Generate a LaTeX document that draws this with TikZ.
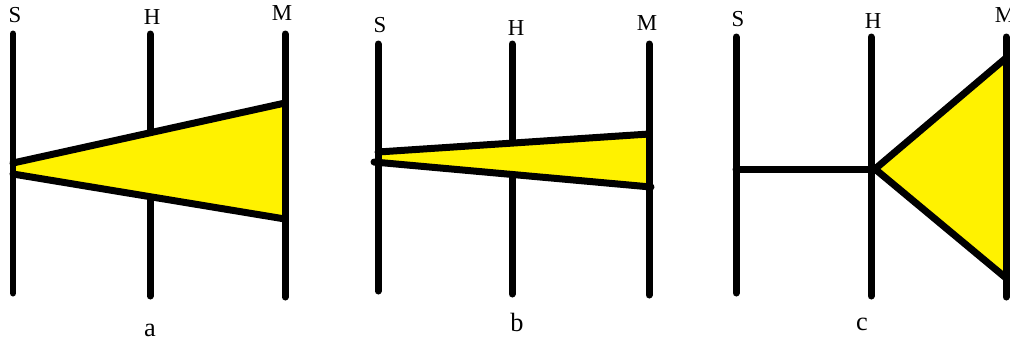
\documentclass[tikz,border=0pt]{standalone}
\usepackage{fontspec}
\setmainfont{Liberation Serif}

\begin{document}
\begin{tikzpicture}[
    x=0.02cm, y=-0.02cm,
    every node/.style={font=\fontsize{13}{15}\selectfont, inner sep=0pt},
    bar/.style={line width=0.14cm, line cap=round},
    edge/.style={line width=0.14cm, line cap=round, line join=round},
  ]
  \useasboundingbox (0,0) rectangle (1010,343);

  % panel a
  \node (aS) at (15,15)  {S};
  \node (aH) at (152,17) {H};
  \node (aM) at (282,13) {M};
  \node[font=\fontsize{15}{17}\selectfont] (acap) at (150,330) {a};

  \coordinate (aSt) at (13,34);
  \coordinate (aSb) at (13,293);
  \coordinate (aHt) at (150,34);
  \coordinate (aHb) at (150,296);
  \coordinate (aMt) at (285,34);
  \coordinate (aMb) at (285,297);
  \coordinate (aup1) at (13,163);
  \coordinate (aup2) at (285,103);
  \coordinate (alo1) at (13,174);
  \coordinate (alo2) at (285,219);

  \draw[bar] (aHt) -- (aHb);
  \fill[yellow] (aup1) -- (aup2) -- (alo2) -- (alo1) -- cycle;
  \draw[edge] (aup1) -- (aup2);
  \draw[edge] (alo1) -- (alo2);
  \draw[bar] (aSt) -- (aSb);
  \draw[bar] (aMt) -- (aMb);

  % panel b
  \node (bS) at (380,25) {S};
  \node (bH) at (516,28) {H};
  \node (bM) at (647,23) {M};
  \node[font=\fontsize{15}{17}\selectfont] (bcap) at (517,322) {b};

  \coordinate (bSt) at (378,44);
  \coordinate (bSb) at (378,291);
  \coordinate (bHt) at (512,44);
  \coordinate (bHb) at (512,294);
  \coordinate (bMt) at (649,44);
  \coordinate (bMb) at (649,295);
  \coordinate (bup1) at (378,152);
  \coordinate (bup2) at (649,134);
  \coordinate (blo1) at (374,162);
  \coordinate (blo2) at (651,187);

  \draw[bar] (bHt) -- (bHb);
  \fill[yellow] (bup1) -- (bup2) -- (blo2) -- (blo1) -- cycle;
  \draw[edge] (bup1) -- (bup2);
  \draw[edge] (blo1) -- (blo2);
  \draw[bar] (bSt) -- (bSb);
  \draw[bar] (bMt) -- (bMb);

  % panel c
  \node (cS) at (738,19)  {S};
  \node (cH) at (873,21)  {H};
  \node (cM) at (1005,15) {M};
  \node[font=\fontsize{15}{17}\selectfont] (ccap) at (862,324) {c};

  \coordinate (cSt) at (736,37);
  \coordinate (cSb) at (736,293);
  \coordinate (cHt) at (871,37);
  \coordinate (cHb) at (871,296);
  \coordinate (cMt) at (1006,37);
  \coordinate (cMb) at (1006,297);
  \coordinate (cleft) at (736,169);
  \coordinate (ctip) at (875,169);
  \coordinate (ctop) at (1006,58);
  \coordinate (cbot) at (1006,278);

  \draw[bar] (cSt) -- (cSb);
  \draw[bar] (cHt) -- (cHb);
  \draw[edge] (cleft) -- (ctip);
  \filldraw[yellow] (ctip) -- (ctop) -- (cbot) -- cycle;
  \draw[edge] (ctop) -- (ctip) -- (cbot);
  \draw[bar] (cMt) -- (cMb);

\end{tikzpicture}
\end{document}
